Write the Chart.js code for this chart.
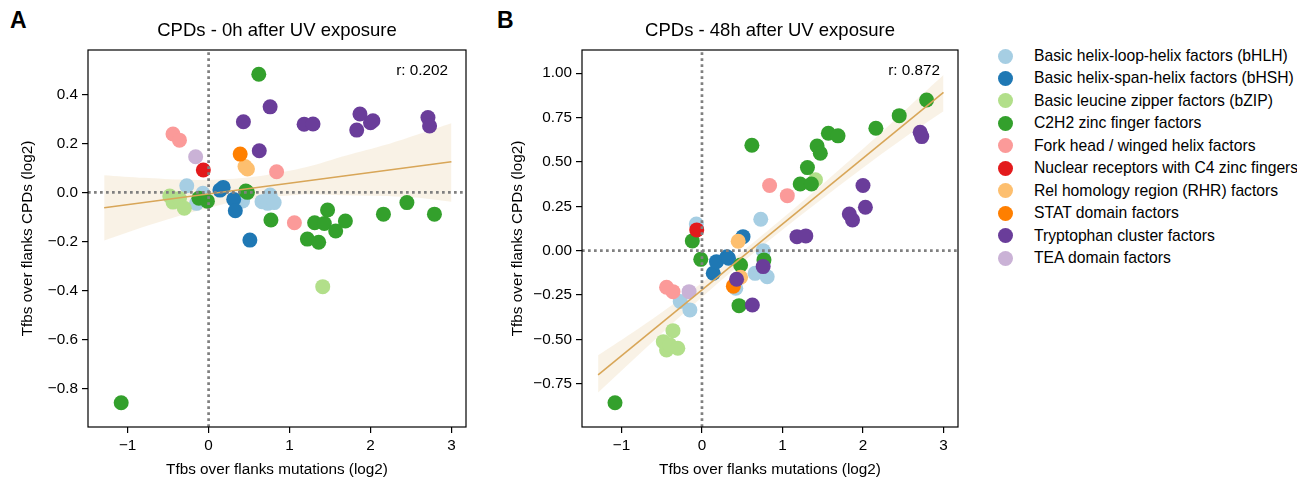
<!DOCTYPE html>
<html lang="en">
<head>
    <meta charset="UTF-8">
    <title>CPDs vs mutations</title>
    <script src="https://cdn.jsdelivr.net/npm/chart.js"></script>
    <style>
        body { margin: 0; background: #fff; font-family: "Liberation Sans", Arial, sans-serif; }
        .page { position: relative; width: 1297px; height: 479px; overflow: hidden; }
        .panel { position: absolute; top: 0; }
        .letter { position: absolute; font-weight: bold; font-size: 23px; color: #000; }
        .legend-row { position: absolute; left: 998px; height: 20px; display: flex; align-items: center; font-size: 15.7px; color: #000; white-space: nowrap; }
        .legend-dot { width: 15px; height: 15px; border-radius: 50%; margin-right: 21px; flex: none; }
    </style>
</head>
<body>
<div class="page">
    <div class="letter" style="left: 10px; top: 7px;">A</div>
    <div class="letter" style="left: 497px; top: 7px;">B</div>
    <div class="panel" style="left: 0;"><canvas id="chartA" width="490" height="479"></canvas></div>
    <div class="panel" style="left: 495px;"><canvas id="chartB" width="487" height="479"></canvas></div>
    <div id="legend"></div>
</div>

<script>
    // TF families (hue) and their colours
    const categories = [
        'Basic helix-loop-helix factors (bHLH)',
        'Basic helix-span-helix factors (bHSH)',
        'Basic leucine zipper factors (bZIP)',
        'C2H2 zinc finger factors',
        'Fork head / winged helix factors',
        'Nuclear receptors with C4 zinc fingers',
        'Rel homology region (RHR) factors',
        'STAT domain factors',
        'Tryptophan cluster factors',
        'TEA domain factors'
    ];
    const colors = ['#a6cee3', '#1f78b4', '#b2df8a', '#33a02c', '#fb9a99',
                    '#e31a1c', '#fdbf6f', '#ff7f00', '#6a3d9a', '#cab2d6'];

    // x: tfbs over flanks mutations (log2), one list per family
    const mutations = [
        [-0.27, -0.15, -0.07, 0.42, 0.66, 0.73, 0.76, 0.81],
        [0.14, 0.18, 0.31, 0.33, 0.51],
        [-0.48, -0.44, -0.40, -0.36, -0.30, 1.41],
        [-1.08, -0.12, -0.015, 0.46, 0.48, 0.62, 0.77, 1.22, 1.31, 1.36, 1.43, 1.47, 1.57, 1.69, 2.16, 2.45, 2.79],
        [-0.44, -0.36, 0.84, 1.06],
        [-0.065],
        [0.45, 0.48],
        [0.39],
        [0.43, 0.626, 0.76, 1.18, 1.29, 1.83, 1.87, 2.0, 2.03, 2.71, 2.73],
        [-0.16]
    ];
    // y: tfbs over flanks CPDs (log2), 0h after UV
    const cpd0h = [
        [0.027, -0.045, -0.004, -0.035, -0.038, -0.045, -0.011, -0.042],
        [0.009, 0.02, -0.029, -0.075, -0.195],
        [-0.015, -0.04, -0.03, -0.025, -0.065, -0.385],
        [-0.859, -0.024, -0.036, 0.005, 0.0, 0.482, -0.113, -0.191, -0.124, -0.204, -0.127, -0.072, -0.158, -0.117, -0.089, -0.042, -0.089],
        [0.238, 0.213, 0.084, -0.124],
        [0.091],
        [0.105, 0.095],
        [0.156],
        [0.288, 0.17, 0.349, 0.278, 0.279, 0.254, 0.32, 0.284, 0.292, 0.305, 0.271],
        [0.145]
    ];
    // y: tfbs over flanks CPDs (log2), 48h after UV
    const cpd48h = [
        [-0.287, -0.334, 0.15, -0.212, -0.128, 0.177, 0.0, -0.147],
        [-0.127, -0.062, -0.034, -0.043, 0.079],
        [-0.513, -0.56, -0.53, -0.451, -0.55, 0.40],
        [-0.857, 0.055, -0.049, -0.31, -0.081, 0.594, -0.052, 0.376, 0.468, 0.376, 0.59, 0.549, 0.662, 0.647, 0.69, 0.761, 0.849],
        [-0.206, -0.231, 0.367, 0.31],
        [0.117],
        [0.053, -0.15],
        [-0.2],
        [-0.161, -0.306, -0.09, 0.079, 0.083, 0.207, 0.173, 0.367, 0.245, 0.667, 0.643],
        [-0.231]
    ];

    // regression line + confidence band
    const fitX = [-1.29, 3.0];
    const fit0h = [-0.063, 0.125];
    const fit48h = [-0.70, 0.892];
    const bandX = [-1.29, -0.8, -0.3, 0.2, 0.7, 1.2, 1.7, 2.2, 2.6, 3.0];
    const band0hLow = [-0.197, -0.141, -0.089, -0.047, -0.020, -0.008, -0.012, -0.015, -0.022, -0.038];
    const band0hHigh = [0.070, 0.059, 0.051, 0.053, 0.070, 0.102, 0.150, 0.195, 0.238, 0.282];
    const band48hLow = [-0.800, -0.593, -0.382, -0.182, 0.009, 0.189, 0.365, 0.535, 0.664, 0.786];
    const band48hHigh = [-0.590, -0.443, -0.282, -0.112, 0.069, 0.259, 0.455, 0.655, 0.824, 0.990];

    const rValues = ['0.202', '0.872'];
    const titles = ['CPDs - 0h after UV exposure', 'CPDs - 48h after UV exposure'];

    const xRange = [-1.49, 3.18];
    const yRange0h = [-0.958, 0.581];
    const yRange48h = [-0.994, 1.131];

    const FONT = '"Liberation Sans", Arial, sans-serif';
    const TXT = 15.3;
    Chart.defaults.font.family = FONT;
    Chart.defaults.color = '#000';

    const fitColor = 'rgb(216, 166, 88)';
    const bandColor = 'rgba(216, 166, 88, 0.15)';

    function fmt(v, d) {
        if (Math.abs(v) < 1e-9) v = 0;
        return v.toFixed(d).replace('-', '\u2212');
    }

    function pts(xs, ys) {
        return xs.map((x, i) => ({ x: x, y: ys[i] }));
    }

    // box around the axes + the "r:" text
    const framePlugin = {
        id: 'frame',
        afterDatasetsDraw(chart, args, opts) {
            const ctx = chart.ctx;
            const a = chart.chartArea;
            ctx.save();
            ctx.strokeStyle = '#000';
            ctx.lineWidth = 1.2;
            ctx.strokeRect(a.left, a.top, a.right - a.left, a.bottom - a.top);
            ctx.font = TXT + 'px ' + FONT;
            ctx.fillStyle = '#000';
            ctx.textAlign = 'right';
            ctx.textBaseline = 'middle';
            ctx.fillText('r: ' + opts.r, a.right - 18, a.top + 21);
            ctx.restore();
        }
    };

    function makeChart(id, cfg) {
        const datasets = [];

        // reference lines at 0
        datasets.push({
            type: 'line', data: [{ x: xRange[0], y: 0 }, { x: xRange[1], y: 0 }],
            borderColor: '#808080', borderWidth: 2.7, borderDash: [2.7, 3.3],
            pointRadius: 0, fill: false, order: 0
        });
        datasets.push({
            type: 'line', data: [{ x: 0, y: cfg.yRange[0] }, { x: 0, y: cfg.yRange[1] }],
            borderColor: '#808080', borderWidth: 2.7, borderDash: [2.7, 3.3],
            pointRadius: 0, fill: false, order: 0
        });

        // regression line
        datasets.push({
            type: 'line', data: pts(fitX, cfg.fit),
            borderColor: fitColor, borderWidth: 1.6, pointRadius: 0, fill: false, order: 1
        });

        // points, one dataset per family (later families on top)
        categories.forEach((name, i) => {
            datasets.push({
                label: name,
                data: pts(mutations[i], cfg.ys[i]),
                backgroundColor: colors[i],
                borderWidth: 0,
                pointRadius: 7.5,
                pointHoverRadius: 7.5,
                order: 20 - i
            });
        });

        // confidence band
        datasets.push({
            type: 'line', data: pts(bandX, cfg.bandLow),
            borderWidth: 0, pointRadius: 0, fill: false, order: 40
        });
        datasets.push({
            type: 'line', data: pts(bandX, cfg.bandHigh),
            borderWidth: 0, pointRadius: 0, fill: '-1', backgroundColor: bandColor,
            tension: 0.3, order: 40
        });

        return new Chart(document.getElementById(id), {
            type: 'scatter',
            data: { datasets: datasets },
            options: {
                responsive: false,
                animation: false,
                devicePixelRatio: 1,
                events: [],
                layout: { padding: { left: cfg.padLeft, right: 24, top: 12, bottom: 0 } },
                plugins: {
                    legend: { display: false },
                    tooltip: { enabled: false },
                    title: {
                        display: true, text: cfg.title, fullSize: false,
                        font: { size: 18.5, weight: 'normal' }, color: '#000',
                        padding: { top: 8, bottom: 7.8 }
                    },
                    frame: { r: cfg.r }
                },
                scales: {
                    x: {
                        type: 'linear', min: xRange[0], max: xRange[1],
                        afterFit: s => { s.height = 52; },
                        border: { display: false },
                        grid: { drawOnChartArea: false, drawTicks: true, tickLength: 6, color: '#000', lineWidth: 1.2 },
                        ticks: {
                            stepSize: 1, includeBounds: false, padding: 4,
                            font: { size: TXT }, color: '#000',
                            callback: v => fmt(v, 0)
                        },
                        title: {
                            display: true, text: 'Tfbs over flanks mutations (log2)',
                            font: { size: TXT }, color: '#000', padding: { top: 0, bottom: 0 }
                        }
                    },
                    y: {
                        type: 'linear', min: cfg.yRange[0], max: cfg.yRange[1],
                        afterFit: s => { s.width = cfg.yWidth; },
                        border: { display: false },
                        grid: { drawOnChartArea: false, drawTicks: true, tickLength: 6, color: '#000', lineWidth: 1.2 },
                        ticks: {
                            stepSize: cfg.step, includeBounds: false, padding: 4,
                            font: { size: TXT }, color: '#000',
                            callback: v => fmt(v, cfg.decimals)
                        },
                        title: {
                            display: true, text: 'Tfbs over flanks CPDs (log2)',
                            font: { size: TXT }, color: '#000', padding: { top: 3, bottom: 0 }
                        }
                    }
                }
            },
            plugins: [framePlugin]
        });
    }

    makeChart('chartA', {
        title: titles[0], r: rValues[0], ys: cpd0h, fit: fit0h,
        bandLow: band0hLow, bandHigh: band0hHigh, yRange: yRange0h,
        step: 0.2, decimals: 1, padLeft: 16, yWidth: 72
    });
    makeChart('chartB', {
        title: titles[1], r: rValues[1], ys: cpd48h, fit: fit48h,
        bandLow: band48hLow, bandHigh: band48hHigh, yRange: yRange48h,
        step: 0.25, decimals: 2, padLeft: 11, yWidth: 76
    });

    // legend
    const legend = document.getElementById('legend');
    categories.forEach((name, i) => {
        const row = document.createElement('div');
        row.className = 'legend-row';
        row.style.top = (46 + i * 22.45) + 'px';
        row.innerHTML = '<span class="legend-dot" style="background:' + colors[i] + '"></span><span>' + name + '</span>';
        legend.appendChild(row);
    });
</script>
</body>
</html>
